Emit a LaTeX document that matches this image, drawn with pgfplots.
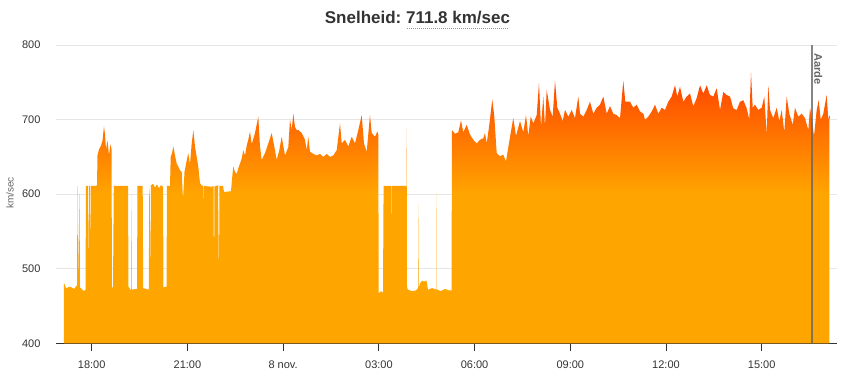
\documentclass[border=0pt]{standalone}
\usepackage{pgfplots}
\pgfplotsset{compat=1.18}
\usepackage{fontspec}
\setmainfont{Liberation Sans}
\definecolor{c1}{HTML}{FFA500}
\definecolor{c2}{HTML}{FF4000}
\definecolor{gridc}{HTML}{E6E6E6}
\definecolor{axc}{HTML}{333333}
\definecolor{txt}{HTML}{333333}
\definecolor{lab}{HTML}{666666}
\definecolor{ulc}{HTML}{999999}
\definecolor{earth}{HTML}{666666}
\pgfdeclareverticalshading{spd}{100bp}{color(0bp)=(c1); color(25bp)=(c1); color(52.5bp)=(c1); color(75bp)=(c2); color(100bp)=(c2)}
\newcommand\dotul[1]{\setbox0=\hbox{#1}\rlap{\raisebox{-3.3pt}{\color{ulc}\leaders\hbox to 1.5pt{\hss\rule{0.75pt}{0.6pt}}\hskip\wd0}}\box0}

\pgfplotstableread{
x y
64 481
66 474
70 476
74 473
76.5 477
77 478
77.5 611
78 480
79.5 600
80 475
84 470
85.5 472
86 611
88 611
88.6 500
89.2 611
90 611
90.6 520
91 611
96 611
97 612
97.5 652
99 660
101 665
102.5 672
104 691
105 680
106 660
107.5 672
109 652
110.5 667
111.5 660
112 476
113 474
113.8 611
128 611
128.5 476
131 471
131.3 600
131.7 472
137 473
137.5 611
142.7 611
143.2 474
148.8 472
149.3 611
149.8 600
150.3 478
151 612
153 614
155 609
157 613
159 608
161 612
163 610
163.5 475
166.5 476
167 611
170 611
170.7 650
172 655
173.3 664
175 652
176.7 641
178.3 637
180 632
181.7 630
183 592
184.5 630
186.7 645
188.3 655
190 640
191.5 665
193.3 686
195 664
196.7 650
198.3 637
200 615
202 611
203.2 612
203.6 585
204 611
212 610
213.5 611
214 476
214.5 610
216 611
218 612
219 480
219.5 611
223 611
224 603
231 604
232 620
233.3 637
235 630
236.7 627
238.3 635
240 641
241.7 648
243.3 659
245 652
246.7 665
248.3 673
250 684
251.7 667
255 682
258.3 704
260 664
261.7 646
265 655
268.3 668
271.7 682
275 659
276.7 646
279.3 659
281.7 677
285 652
288.3 663
290 700
291.7 686
293.3 708
295 690
296.7 686
298.3 686
301.7 682
305 673
306.7 659
308.3 677
310 657
313.3 654
316.7 652
320 654
323.3 650
326.7 654
330 650
333.3 652
336.7 659
340 695
341.7 668
345 673
348.3 664
351.7 677
355 668
358.3 686
361.7 706
364 668
366.7 657
370 706
371.7 682
375 677
377.3 684
378.3 680
378.7 467
381 470
383 468
383.6 611
391.4 611
391.7 496
392 611
406.3 611
406.6 688
407 475
408 472
412 470
416 471
418 474
418.3 588
418.6 474
420 480
422 484
424 483
426.5 484
428 472
432 474
436.5 472
436.7 601
437 472
441 470
445 473
449 471
451.5 471
452 686
455 681
458.3 683
461 699
463.3 683
466.7 693
470 680
473.3 673
476.7 668
480 673
483.3 675
485 682
486.7 668
489.3 693
492.3 727
494.3 704
496.7 655
500 651
503.3 653
506 644
508.3 663
511.7 690
513.3 702
516 678
520 698
523.3 683
526 706
528.3 678
530.7 704
533.3 695
536.7 706
539 749
541 690
543.3 731
545 690
546.7 740
550 713
552.7 704
555 752
557.3 716
560 708
562.7 698
565 713
568.3 704
571.7 713
575 702
578.3 731
580 708
583.3 704
586.7 713
590 724
593.3 708
596.7 716
600 720
603.3 731
606.7 708
610 718
613.3 708
616.7 706
620 702
623.3 752
625.3 724
628.3 724
630 724
633.3 716
636.7 720
640 711
643.3 708
645 700
648.3 704
651.7 711
655 720
658.3 708
661.7 716
665 713
668.3 724
671.7 731
675 746
677.3 731
680 744
683.3 724
686.7 731
690 735
693.3 718
696.7 729
700 746
703.3 735
706.7 746
710 733
713.3 731
716.7 742
720 713
723.3 737
726.7 733
730 731
733.3 715
736.7 713
740 724
743.3 726
746.7 715
749.3 700
751 763
752.7 716
755 720
758.3 713
761.7 716
764.3 731
766.7 680
768.3 746
770 713
773.3 702
776.7 716
779.3 698
781.7 713
784.3 683
786.7 731
789.3 708
792.7 693
795 716
798.3 704
801.7 708
805 702
808.3 686
810 716
811.7 702
814 678
816.7 713
818.7 726
820.7 700
823.3 708
826.7 733
828.3 700
829.3 705
}\speed

\begin{document}
\begin{tikzpicture}
\path[use as bounding box] (-42pt,-20.8pt) rectangle (593.25pt,257.5pt);
\begin{axis}[
  at={(0,0)}, anchor=south west,
  scale only axis,
  width=585.75pt, height=223.7pt,
  xmin=56, xmax=837, ymin=400, ymax=800,
  axis x line*=bottom, axis y line*=left,
  y axis line style={draw=none},
  x axis line style={draw=axc, line width=0.9pt},
  ytick={400,500,600,700,800},
  xtick={91.7,187.4,283.1,378.9,474.6,570.3,666,761.7},
  xticklabels={18:00,21:00,8 nov.,03:00,06:00,09:00,12:00,15:00},
  tick align=outside,
  major tick length=6pt,
  xtick style={draw=axc, line width=0.75pt},
  ytick style={draw=none},
  ymajorgrids,
  grid style={draw=gridc, line width=0.75pt},
  /pgf/number format/assume math mode=true,
  ticklabel style={font=\fontsize{8.25pt}{9pt}\selectfont, text=txt},
  yticklabel style={inner sep=0pt, anchor=east, xshift=-5.5pt},
  xticklabel style={inner sep=0pt, anchor=base, yshift=-12.75pt},
]
\addplot[draw=none, shade, shading=spd] table[x=x,y=y] {\speed} \closedcycle;
\addplot[draw=earth, line width=1.5pt, opacity=0.8] coordinates {(811.7,400) (811.7,800)};
\node[rotate=-90, anchor=west, inner sep=0pt, text=lab, font=\bfseries\fontsize{8.25pt}{9pt}\selectfont] at (axis cs:818.3,789.6) {Aarde};
\end{axis}
\node[anchor=base, text=txt, font=\bfseries\fontsize{12.75pt}{14pt}\selectfont] at (271.1pt,239.5pt) {Snelheid:~\dotul{711.8 km/sec}};
\node[rotate=90, text=lab, font=\fontsize{7.5pt}{8pt}\selectfont] at (-34.5pt,112.7pt) {km/sec};
\end{tikzpicture}
\end{document}
